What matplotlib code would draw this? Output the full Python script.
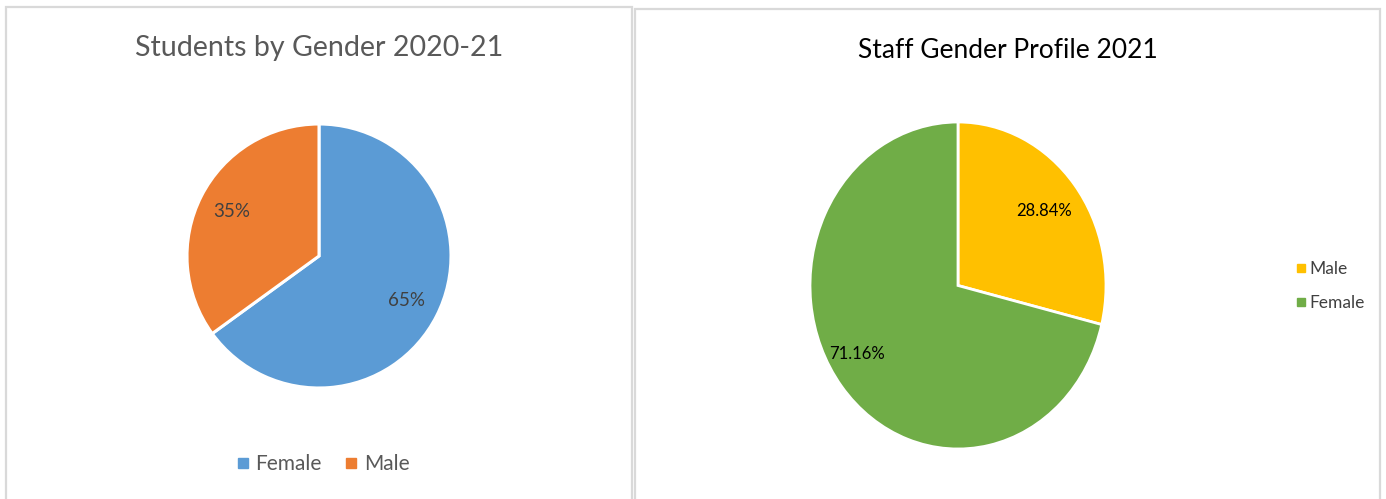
import matplotlib.pyplot as plt
from matplotlib.patches import Rectangle
from matplotlib.lines import Line2D
import matplotlib
matplotlib.rcParams['font.family'] = ['Lato', 'DejaVu Sans']

# Students chart
student_labels = ["Female", "Male"]
student_values = [65, 35]
student_colors = ["#5B9BD5", "#ED7D31"]

# Staff chart
staff_labels = ["Male", "Female"]
staff_values = [28.84, 71.16]
staff_colors = ["#FFC000", "#70AD47"]

W, H = 1386, 499
fig = plt.figure(figsize=(W / 100, H / 100), dpi=100)


def px_axes(x0, y0, x1, y1):
    # pixel box (top-left origin) -> figure axes
    return fig.add_axes([x0 / W, 1 - y1 / H, (x1 - x0) / W, (y1 - y0) / H])


# panel borders
fig.patches.append(Rectangle((5.5 / W, -0.1), (632 - 5.5) / W, 1.1 - 6.5 / H,
                             transform=fig.transFigure, fill=False,
                             edgecolor="#D9D9D9", lw=1.6))
fig.patches.append(Rectangle((634.5 / W, -0.1), (1380 - 634.5) / W, 1.1 - 9.5 / H,
                             transform=fig.transFigure, fill=False,
                             edgecolor="#D9D9D9", lw=1.6))

# left pie
ax1 = px_axes(187, 124, 451, 388)
w1, _, t1 = ax1.pie(student_values, colors=student_colors, startangle=90, counterclock=False,
                    autopct="%.0f%%", pctdistance=0.74,
                    wedgeprops=dict(edgecolor="white", linewidth=2.2),
                    textprops=dict(color="#404040", fontsize=13.5))
ax1.set_xlim(-1, 1)
ax1.set_ylim(-1, 1)
ax1.set_aspect("auto")
ax1.axis("off")
fig.text(319 / W, 1 - 48 / H, "Students by Gender 2020-21", ha="center", va="center",
         fontsize=20.6, color="#595959")

h1 = [Line2D([], [], marker="s", ls="", color=c, markersize=7.5) for c in student_colors]
fig.legend(h1, student_labels, loc="center", bbox_to_anchor=(322 / W, 1 - 464 / H),
           ncol=2, frameon=False, fontsize=15, labelcolor="#595959",
           handletextpad=0.2, columnspacing=1.0, handlelength=0.8)

# right pie
ax2 = px_axes(810, 122, 1106, 449)
w2, _, t2 = ax2.pie(staff_values, colors=staff_colors, startangle=90, counterclock=False,
                    autopct="%.2f%%", pctdistance=0.74,
                    wedgeprops=dict(edgecolor="white", linewidth=2),
                    textprops=dict(color="black", fontsize=12))
ax2.set_xlim(-1, 1)
ax2.set_ylim(-1, 1)
ax2.set_aspect("auto")
ax2.axis("off")
# Female label sits a bit further out in the reference
t2[1].set_position((-0.68, -0.42))
fig.text(1008 / W, 1 - 50 / H, "Staff Gender Profile 2021", ha="center", va="center",
         fontsize=19, color="black")

h2 = [Line2D([], [], marker="s", ls="", color=c, markersize=6) for c in staff_colors]
fig.legend(h2, staff_labels, loc="center left", bbox_to_anchor=(1278 / W, 1 - 286 / H),
           frameon=False, fontsize=12.5, labelcolor="#404040",
           handletextpad=0.1, labelspacing=1.0, handlelength=0.8)

fig.savefig("out.png", dpi=100, facecolor="white")
